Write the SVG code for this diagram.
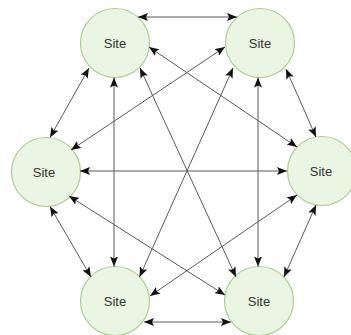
<svg xmlns="http://www.w3.org/2000/svg" width="351" height="335" viewBox="0 0 351 335">
  <style>
    .node circle { fill: #ebf5e4; stroke: #a8cf8e; stroke-width: 1.2; }
    .node text { font-family: "Liberation Sans", Arial, sans-serif; font-size: 13px; fill: #333333; text-anchor: middle; dominant-baseline: central; }
    .edges line { stroke: #5a5a5a; stroke-width: 1; marker-start: url(#arr); marker-end: url(#arr); }
  </style>
  <defs>
    <marker id="arr" viewBox="0 0 10 8" refX="10" refY="4" markerWidth="10" markerHeight="8" markerUnits="userSpaceOnUse" orient="auto-start-reverse">
      <path d="M0,0 L10,4 L0,8 L2,4 z" fill="#111111"/>
    </marker>
  </defs>
  <rect width="351" height="335" fill="#ffffff"/>
  <g id="nodes">
    <g id="site-tl" class="node"><circle cx="115" cy="43" r="34.5"/><text x="115" y="43">Site</text></g>
    <g id="site-tr" class="node"><circle cx="260" cy="43" r="34.5"/><text x="260" y="43">Site</text></g>
    <g id="site-l" class="node"><circle cx="46" cy="172" r="34.5"/><text x="44" y="172">Site</text></g>
    <g id="site-r" class="node"><circle cx="322" cy="171" r="34.5"/><text x="321" y="171">Site</text></g>
    <g id="site-bl" class="node"><circle cx="115" cy="301" r="34.5"/><text x="115" y="301">Site</text></g>
    <g id="site-br" class="node"><circle cx="259" cy="301" r="34.5"/><text x="259" y="301">Site</text></g>
  </g>
  <g id="connectors" class="edges">
    <line x1="138" y1="17" x2="237" y2="17"/>
    <line x1="144" y1="322" x2="231" y2="322"/>
    <line x1="80" y1="171" x2="287" y2="171"/>
    <line x1="114" y1="77.5" x2="114" y2="266.5"/>
    <line x1="258" y1="77.5" x2="258" y2="266.5"/>
    <line x1="140" y1="68" x2="236" y2="277"/>
    <line x1="233" y1="68" x2="139.5" y2="277"/>
    <line x1="89" y1="68" x2="50" y2="137.5"/>
    <line x1="286" y1="69" x2="316" y2="137"/>
    <line x1="91" y1="277" x2="50" y2="206.5"/>
    <line x1="284" y1="277" x2="316" y2="205"/>
    <line x1="149" y1="47" x2="297" y2="147"/>
    <line x1="225" y1="47" x2="71" y2="150"/>
    <line x1="69" y1="196" x2="225" y2="295"/>
    <line x1="297" y1="195" x2="150" y2="296"/>
  </g>
</svg>
